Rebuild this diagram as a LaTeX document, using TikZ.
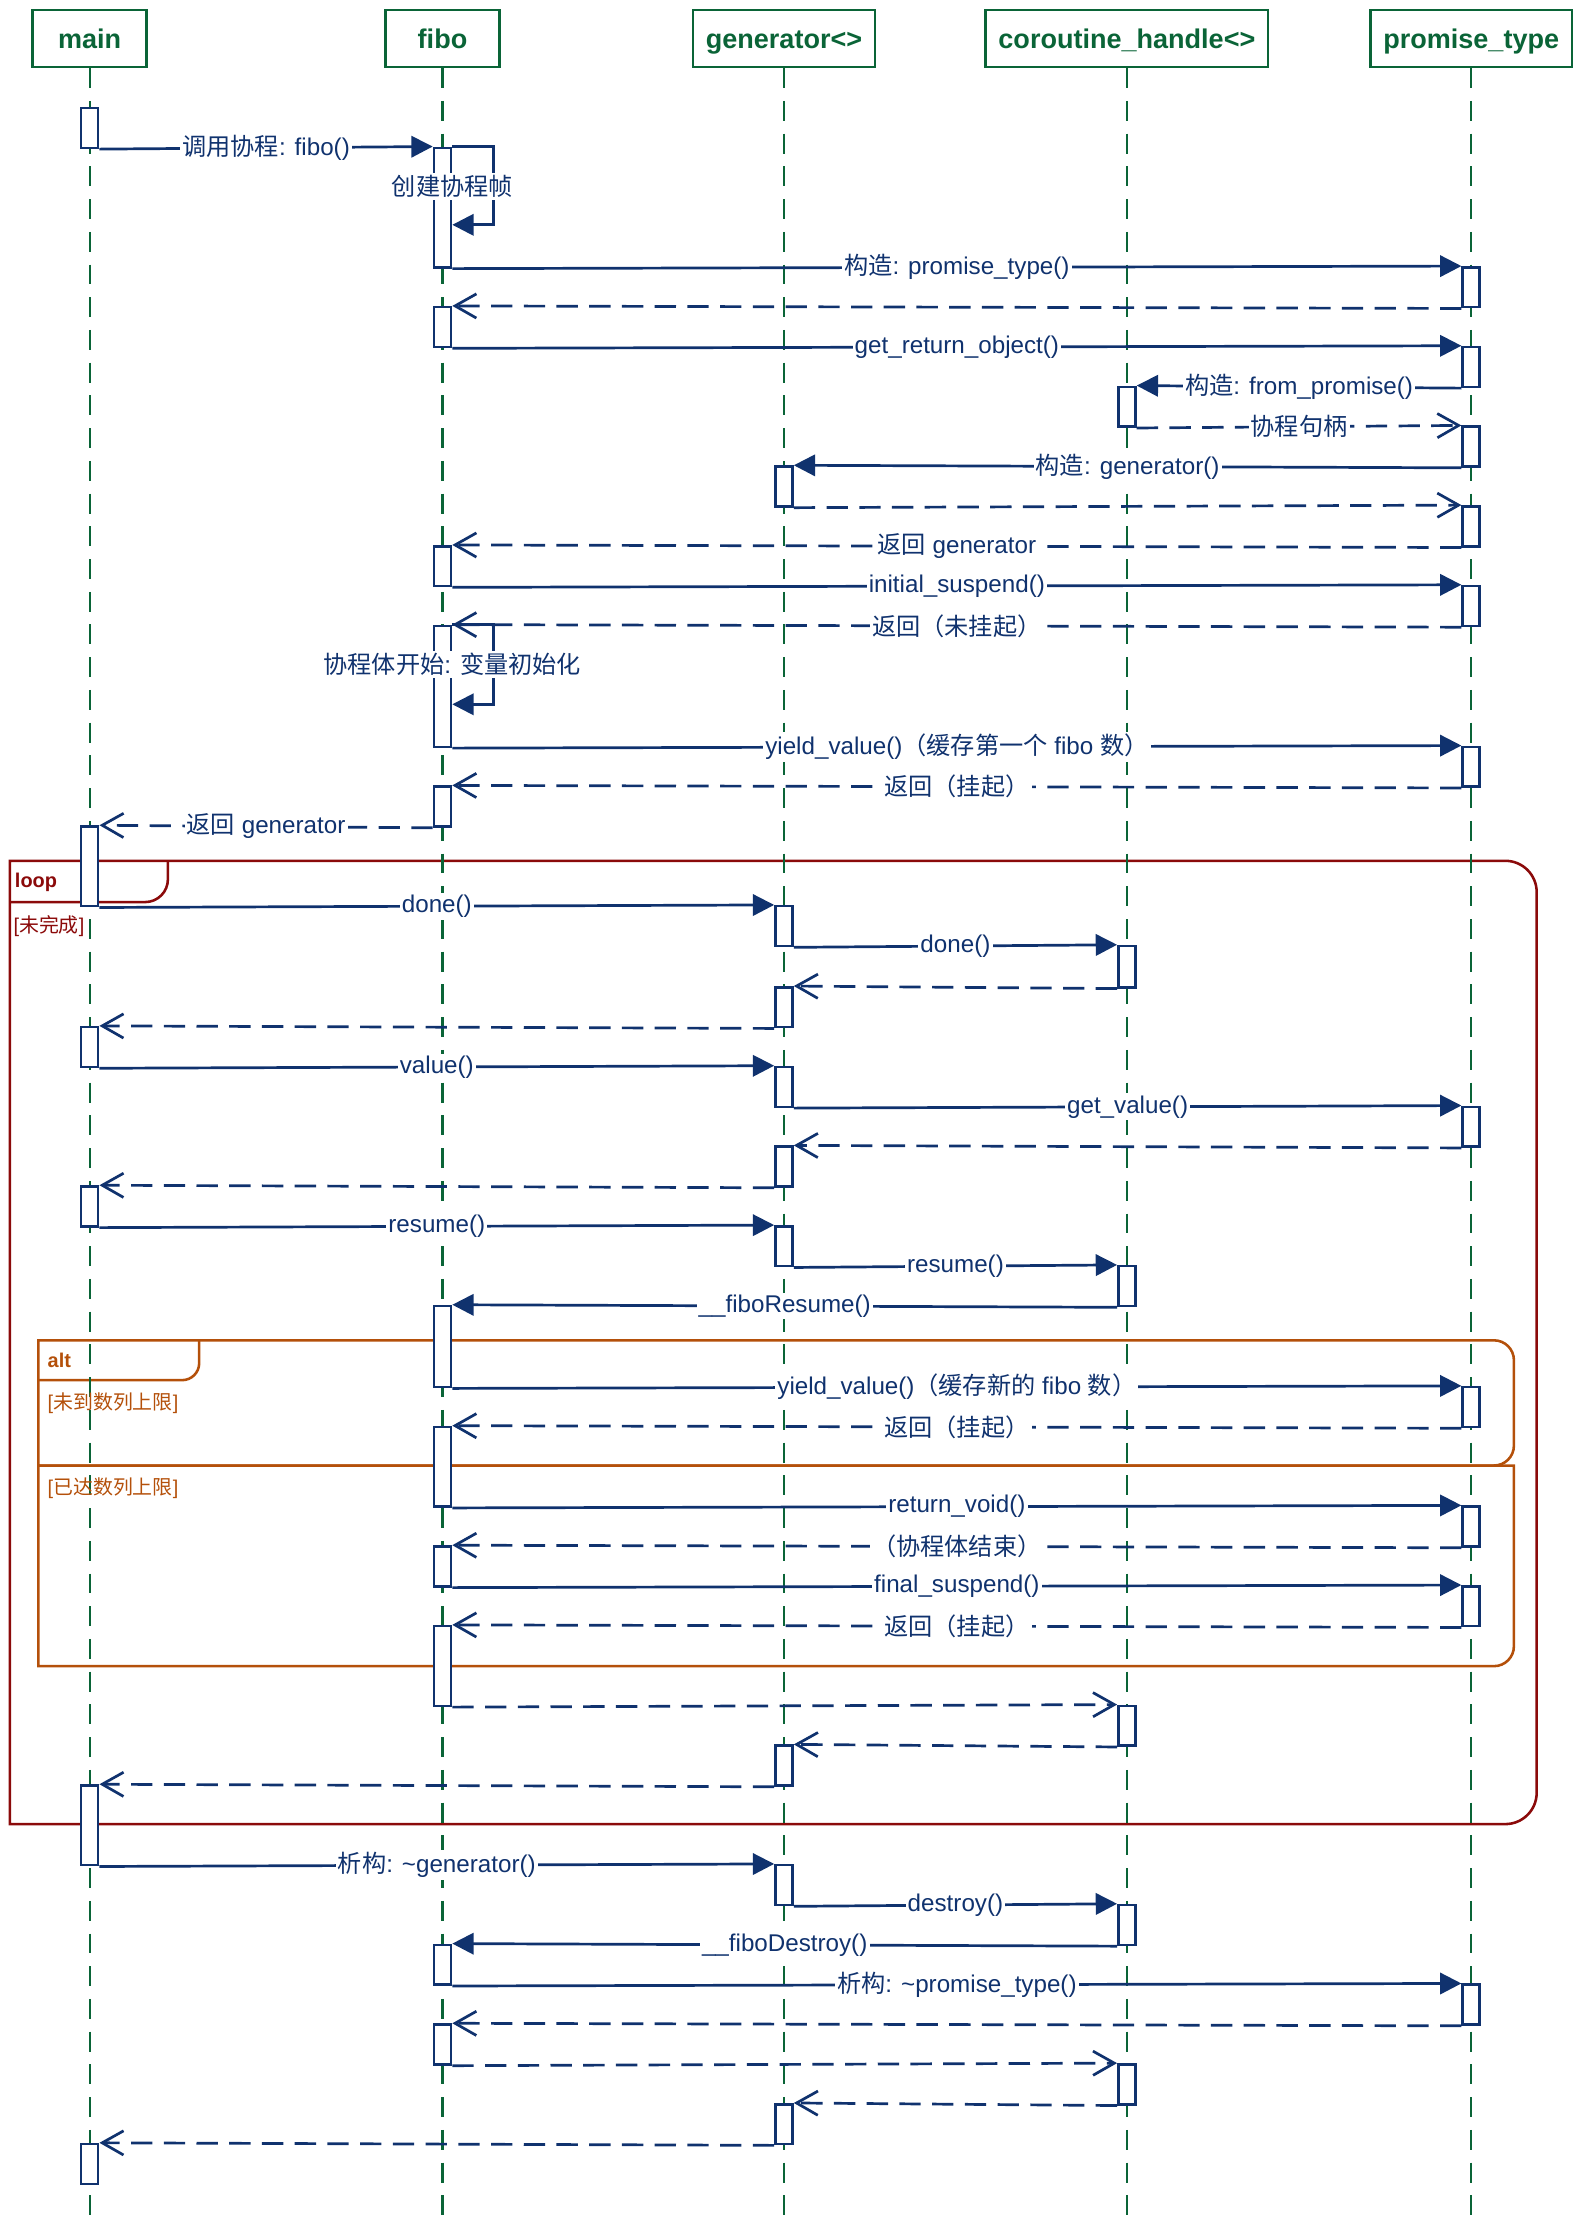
\documentclass[tikz,border=0pt]{standalone}
\usepackage{fontspec}
\setmainfont{Liberation Sans}
\newfontfamily\zhfont{Noto Sans CJK SC}
\usetikzlibrary{arrows.meta}

\definecolor{seqblue}{RGB}{16,50,110}
\definecolor{seqgreen}{RGB}{10,100,55}
\definecolor{loopred}{RGB}{139,10,10}
\definecolor{altbrown}{RGB}{180,80,10}

\begin{document}
\begin{tikzpicture}[x=1pt,y=-1pt,
	head/.style={draw=seqgreen, line width=1.8pt, text=seqgreen, font={\fontsize{19}{22}\selectfont\bfseries}, minimum width=80pt, minimum height=40pt, inner xsep=9pt, text height=16pt, text depth=2pt},
	lifeline/.style={seqgreen, line width=1.5pt, dash pattern=on 14pt off 9pt},
	actbar/.style={draw=seqblue, fill=white, line width=1.8pt, minimum width=12pt, inner sep=0pt, anchor=north},
	call/.style={seqblue, line width=1.9pt, -{Triangle[length=15pt,width=15pt]}},
	ret/.style={seqblue, line width=1.9pt, dash pattern=on 15pt off 8pt, -{Straight Barb[length=15pt,width=17pt]}},
	lbl/.style={fill=white, text=seqblue, inner sep=1.5pt, font={\fontsize{17}{20}\selectfont}},
	loopframe/.style={draw=loopred, line width=1.8pt},
	altframe/.style={draw=altbrown, line width=1.8pt},
	tag/.style={anchor=west, font={\fontsize{14}{16}\selectfont\bfseries}},
	guard/.style={anchor=west, font={\fontsize{14}{16}\selectfont}}]
			\useasboundingbox (0,0) rectangle (1105,1568);
			
			%participants
			\node[head] (main) at (63,27) {main};
			\node[head] (fibo) at (311,27) {fibo};
			\node[head] (gen) at (551,27) {generator<>};
			\node[head] (hdl) at (792,27) {coroutine\_handle<>};
			\node[head] (prom) at (1034,27) {promise\_type};
			
			%loop and alt frames
			\draw[loopframe] (7,605) -- (1058,605) arc[start angle=90, end angle=0, radius=22pt] -- (1080,1260) arc[start angle=0, end angle=-90, radius=22pt] -- (7,1282) -- cycle;
			\draw[loopframe] (7,634) -- (102,634) to[out=0, in=-90] (118,618) -- (118,605);
			\draw[altframe] (27,942) -- (1050,942) arc[start angle=90, end angle=0, radius=14pt] -- (1064,1016) arc[start angle=0, end angle=-90, radius=14pt] -- (27,1030) -- cycle;
			\draw[altframe] (27,1030) -- (1064,1030) -- (1064,1157) arc[start angle=0, end angle=-90, radius=14pt] -- (27,1171) -- cycle;
			\draw[altframe] (27,970) -- (128,970) to[out=0, in=-90] (140,958) -- (140,942);
			
			%lifelines
			\foreach \p in {main, fibo, gen, hdl, prom}
				\draw[lifeline] (\p.south) -- (\p.south |- 0,1560);
			
			\node[tag, text=loopred] (looptag) at (7,620) {loop};
			\node[guard, text=loopred] (loopguard) at (6,651) {[{\zhfont 未完成}]};
			\node[tag, text=altbrown] (alttag) at (30,956) {alt};
			\node[guard, text=altbrown] (altguarda) at (30,986) {[{\zhfont 未到数列上限}]};
			\node[guard, text=altbrown] (altguardb) at (30,1046) {[{\zhfont 已达数列上限}]};
			
			%activation bars: name/lifeline/top/bottom
			\foreach \n/\l/\a/\b in {m1/main/75/103, m2/main/580/636, m3/main/721/749, m4/main/833/861, m5/main/1254/1310, m6/main/1506/1534,
				f1/fibo/103/187, f2/fibo/215/243, f3/fibo/383/411, f4/fibo/439/524, f5/fibo/552/580, f6/fibo/917/974, f7/fibo/1002/1058, f8/fibo/1086/1114, f9/fibo/1142/1198, f10/fibo/1366/1394, f11/fibo/1422/1450,
				g1/gen/327/355, g2/gen/636/664, g3/gen/693/721, g4/gen/749/777, g5/gen/805/833, g6/gen/861/889, g7/gen/1226/1254, g8/gen/1310/1338, g9/gen/1478/1506,
				h1/hdl/271/299, h2/hdl/664/693, h3/hdl/889/917, h4/hdl/1198/1226, h5/hdl/1338/1366, h6/hdl/1450/1478,
				p1/prom/187/215, p2/prom/243/271, p3/prom/299/327, p4/prom/355/383, p5/prom/411/439, p6/prom/524/552, p7/prom/777/805, p8/prom/974/1002, p9/prom/1058/1086, p10/prom/1114/1142, p11/prom/1394/1422}
				\node[actbar, minimum height={\b-\a}] (\n) at (\l |- 0,\a) {};
			
			%start of the coroutine
			\draw[call] (m1.south east) -- node[lbl] {{\zhfont 调用协程}: fibo()} (f1.north west);
			\draw[call] (f1.north east) -- ++(29,0) -- ++(0,55) -- (f1.east |- 0,158);
			\node[lbl] (framelbl) at ([yshift=-28pt]f1.north east) {\zhfont 创建协程帧};
			\draw[call] (f1.south east) -- node[lbl] {{\zhfont 构造}: promise\_type()} (p1.north west);
			\draw[ret] (p1.south west) -- (f2.north east);
			\draw[call] (f2.south east) -- node[lbl] {get\_return\_object()} (p2.north west);
			\draw[call] (p2.south west) -- node[lbl] {{\zhfont 构造}: from\_promise()} (h1.north east);
			\draw[ret] (h1.south east) -- node[lbl] {\zhfont 协程句柄} (p3.north west);
			\draw[call] (p3.south west) -- node[lbl] {{\zhfont 构造}: generator()} (g1.north east);
			\draw[ret] (g1.south east) -- (p4.north west);
			\draw[ret] (p4.south west) -- node[lbl] {{\zhfont 返回} generator} (f3.north east);
			\draw[call] (f3.south east) -- node[lbl] {initial\_suspend()} (p5.north west);
			\draw[ret] (p5.south west) -- node[lbl] {\zhfont 返回（未挂起）} (f4.north east);
			\draw[call] (f4.north east) -- ++(29,0) -- ++(0,56) -- (f4.east |- 0,495);
			\node[lbl] (bodylbl) at ([yshift=-28pt]f4.north east) {{\zhfont 协程体开始}: {\zhfont 变量初始化}};
			\draw[call] (f4.south east) -- node[lbl] {yield\_value(){\zhfont （缓存第一个} fibo {\zhfont 数）}} (p6.north west);
			\draw[ret] (p6.south west) -- node[lbl] {\zhfont 返回（挂起）} (f5.north east);
			\draw[ret] (f5.south west) -- node[lbl] {{\zhfont 返回} generator} (m2.north east);
			
			%loop body
			\draw[call] (m2.south east) -- node[lbl] {done()} (g2.north west);
			\draw[call] (g2.south east) -- node[lbl] {done()} (h2.north west);
			\draw[ret] (h2.south west) -- (g3.north east);
			\draw[ret] (g3.south west) -- (m3.north east);
			\draw[call] (m3.south east) -- node[lbl] {value()} (g4.north west);
			\draw[call] (g4.south east) -- node[lbl] {get\_value()} (p7.north west);
			\draw[ret] (p7.south west) -- (g5.north east);
			\draw[ret] (g5.south west) -- (m4.north east);
			\draw[call] (m4.south east) -- node[lbl] {resume()} (g6.north west);
			\draw[call] (g6.south east) -- node[lbl] {resume()} (h3.north west);
			\draw[call] (h3.south west) -- node[lbl] {\_\_fiboResume()} (f6.north east);
			\draw[call] (f6.south east) -- node[lbl] {yield\_value(){\zhfont （缓存新的} fibo {\zhfont 数）}} (p8.north west);
			\draw[ret] (p8.south west) -- node[lbl] {\zhfont 返回（挂起）} (f7.north east);
			\draw[call] (f7.south east) -- node[lbl] {return\_void()} (p9.north west);
			\draw[ret] (p9.south west) -- node[lbl] {\zhfont （协程体结束）} (f8.north east);
			\draw[call] (f8.south east) -- node[lbl] {final\_suspend()} (p10.north west);
			\draw[ret] (p10.south west) -- node[lbl] {\zhfont 返回（挂起）} (f9.north east);
			\draw[ret] (f9.south east) -- (h4.north west);
			\draw[ret] (h4.south west) -- (g7.north east);
			\draw[ret] (g7.south west) -- (m5.north east);
			
			%destruction
			\draw[call] (m5.south east) -- node[lbl] {{\zhfont 析构}: \textasciitilde generator()} (g8.north west);
			\draw[call] (g8.south east) -- node[lbl] {destroy()} (h5.north west);
			\draw[call] (h5.south west) -- node[lbl] {\_\_fiboDestroy()} (f10.north east);
			\draw[call] (f10.south east) -- node[lbl] {{\zhfont 析构}: \textasciitilde promise\_type()} (p11.north west);
			\draw[ret] (p11.south west) -- (f11.north east);
			\draw[ret] (f11.south east) -- (h6.north west);
			\draw[ret] (h6.south west) -- (g9.north east);
			\draw[ret] (g9.south west) -- (m6.north east);
		\end{tikzpicture}
\end{document}
